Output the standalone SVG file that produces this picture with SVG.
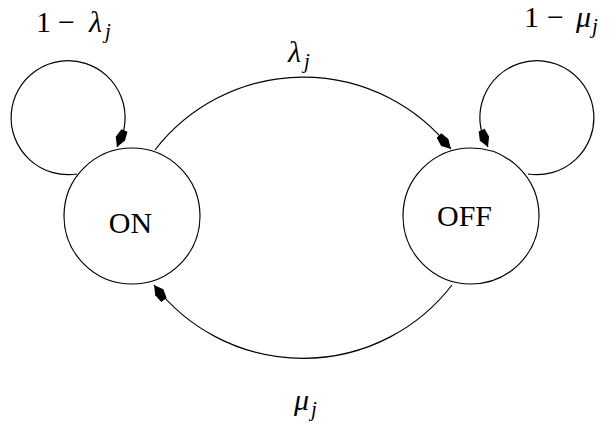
<svg xmlns="http://www.w3.org/2000/svg" width="611" height="425" viewBox="0 0 611 425">
<style>
.st{fill:#fff;stroke:#000;stroke-width:1.2}
.ed{fill:none;stroke:#000;stroke-width:1.2}
.hd{fill:#000;stroke:none}
text{font-family:"Liberation Serif","Times New Roman",serif;font-size:30px;fill:#000}
.m{font-style:italic}
.s{font-style:italic;font-size:21px}
</style>
<defs>
<path id="ah" d="M0,0 L-9,-5 L-18,-4 L-18,2.5 L-9,5 Z"/>
</defs>
<g id="connectors">
<path class="ed" d="M77,174 A57,57 0 1 1 117,147"/>
<use href="#ah" class="hd" transform="translate(117,147) rotate(112)"/>
<path class="ed" d="M528,174 A57,57 0 1 0 488,147"/>
<use href="#ah" class="hd" transform="translate(488,147) rotate(67)"/>
<path class="ed" d="M155,150 A187.5,187.5 0 0 1 451,149"/>
<use href="#ah" class="hd" transform="translate(451,149) rotate(46)"/>
<path class="ed" d="M452,285 A188,188 0 0 1 154,285"/>
<use href="#ah" class="hd" transform="translate(154,285) rotate(-126)"/>
</g>
<g id="ON">
<circle class="st" cx="132" cy="216" r="68"/>
<text x="130.5" y="233" text-anchor="middle">ON</text>
</g>
<g id="OFF">
<circle class="st" cx="471" cy="216" r="68"/>
<text x="464.5" y="226" text-anchor="middle">OFF</text>
</g>
<g id="labels">
<text y="32"><tspan x="36">1</tspan><tspan x="58">−</tspan><tspan class="m" x="89">λ</tspan><tspan class="s" x="105" dy="6">j</tspan></text>
<text y="27"><tspan x="524">1</tspan><tspan x="547">−</tspan><tspan class="m" x="576">μ</tspan><tspan class="s" x="592" dy="6">j</tspan></text>
<text y="62"><tspan class="m" x="288">λ</tspan><tspan class="s" x="304" dy="6">j</tspan></text>
<text y="410"><tspan class="m" x="294">μ</tspan><tspan class="s" x="311" dy="6">j</tspan></text>
</g>
</svg>
